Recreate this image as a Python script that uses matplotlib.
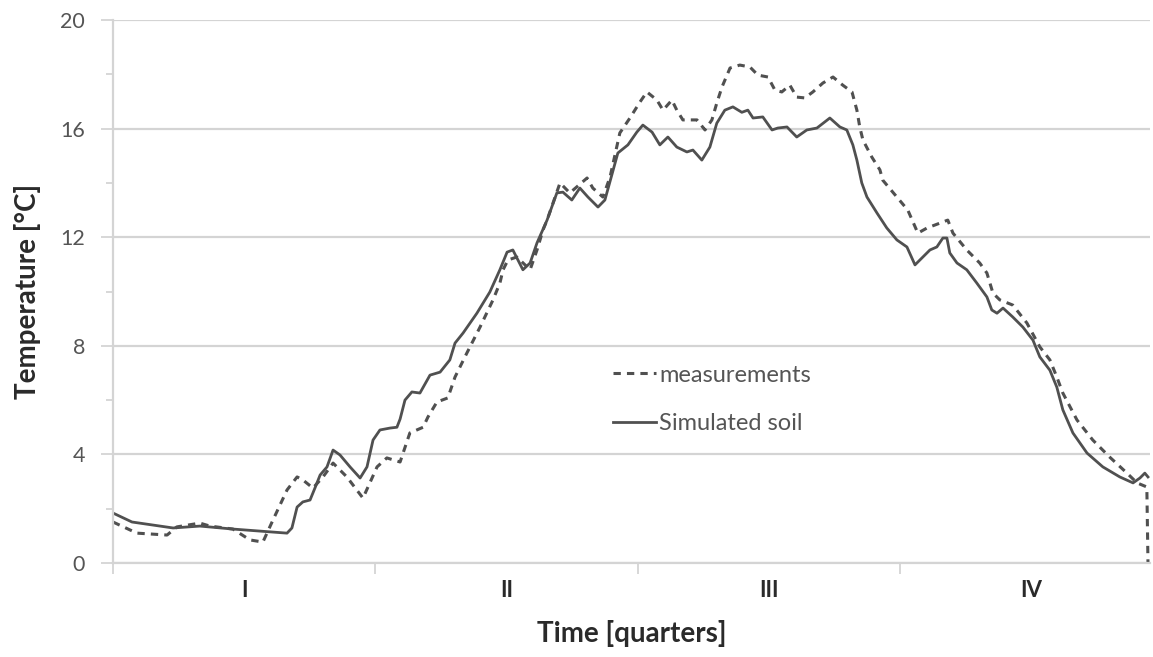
import numpy as np
import matplotlib.pyplot as plt
from matplotlib.ticker import MultipleLocator, FixedLocator

# day of year (0..360) and temperature [°C]
sim_day = [0, 6.6, 20.9, 30.2, 41.7, 60.5, 62.2, 64.0, 66.0, 68.5, 70.2, 72.0, 74.4,
           76.5, 78.9, 82.4, 85.9, 88.3, 90.4, 92.8, 96.3, 98.7, 99.8, 101.5, 103.9,
           106.7, 110.2, 113.7, 117.1, 118.9, 121.7, 126.5, 131.0, 134.5, 137.0, 139.0,
           142.5, 145.0, 147.4, 150.9, 154.3, 156.4, 159.5, 162.3, 165.1, 168.6, 171.0,
           173.4, 175.5, 179.0, 182.1, 184.2, 187.4, 190.1, 192.9, 196.0, 199.5, 201.6,
           204.7, 207.5, 209.9, 212.7, 215.5, 218.6, 220.7, 222.5, 225.9, 229.1, 231.1,
           234.3, 237.7, 241.2, 244.7, 249.2, 252.7, 255.1, 257.2, 258.6, 260.3, 262.1,
           265.6, 269.0, 272.5, 276.0, 278.8, 280.5, 284.0, 286.4, 288.5, 289.9, 290.9,
           293.4, 296.8, 300.3, 303.8, 305.5, 307.3, 309.4, 312.8, 316.3, 319.8, 322.2,
           325.7, 328.1, 330.2, 333.7, 338.6, 344.1, 350.0, 354.6, 357.0, 358.7, 359.8]
sim_temp = [1.84, 1.51, 1.29, 1.36, 1.25, 1.10, 1.29, 2.06, 2.25, 2.32, 2.76, 3.24, 3.54,
            4.16, 3.98, 3.54, 3.13, 3.54, 4.53, 4.90, 4.97, 5.00, 5.30, 6.00, 6.30,
            6.26, 6.92, 7.03, 7.48, 8.10, 8.47, 9.20, 9.98, 10.80, 11.45, 11.53,
            10.80, 11.05, 11.79, 12.63, 13.63, 13.66, 13.37, 13.81, 13.48, 13.11, 13.37,
            14.29, 15.10, 15.40, 15.87, 16.13, 15.87, 15.40, 15.69, 15.32, 15.14, 15.21,
            14.84, 15.32, 16.20, 16.68, 16.80, 16.60, 16.68, 16.39, 16.43, 15.95, 16.02,
            16.06, 15.69, 15.95, 16.02, 16.39, 16.06, 15.95, 15.40, 14.84, 14.00, 13.48,
            12.89, 12.34, 11.90, 11.64, 10.98, 11.16, 11.53, 11.64, 11.97, 11.97, 11.42,
            11.05, 10.80, 10.31, 9.80, 9.32, 9.20, 9.39, 9.06, 8.69, 8.21, 7.59,
            7.10, 6.48, 5.64, 4.79, 4.05, 3.54, 3.17, 2.95, 3.13, 3.31, 3.17]

meas_day = [0, 8.3, 18.8, 22.2, 30.2, 33.7, 41.7, 47.6, 52.1, 55.6, 60.5, 64.0, 66.0,
            69.5, 73.0, 76.5, 81.3, 86.9, 91.8, 95.2, 99.8, 103.2, 107.8, 109.5, 112.6,
            116.4, 118.9, 123.0, 127.6, 132.1, 134.5, 135.6, 137.3, 140.4, 145.0, 147.4,
            149.5, 150.9, 155.4, 158.8, 164.8, 166.8, 170.3, 172.8, 176.2, 179.7, 183.2,
            185.6, 189.1, 191.2, 194.3, 196.0, 198.1, 203.0, 205.8, 208.2, 209.9, 211.7,
            214.5, 217.9, 221.4, 224.2, 227.7, 230.1, 232.5, 235.3, 237.7, 240.5, 243.3,
            246.8, 250.3, 253.7, 256.9, 258.6, 259.6, 260.7, 263.8, 266.6, 267.6, 272.5,
            276.3, 279.8, 283.0, 287.5, 290.2, 292.0, 296.8, 301.3, 303.8, 305.9, 308.3,
            312.8, 317.7, 322.2, 325.7, 328.1, 330.2, 335.1, 340.6, 346.5, 352.5, 356.0,
            359.4, 359.8]
meas_temp = [1.51, 1.10, 1.03, 1.33, 1.47, 1.36, 1.25, 0.85, 0.77, 1.58, 2.69, 3.17, 3.06,
             2.76, 3.17, 3.68, 3.17, 2.39, 3.54, 3.87, 3.72, 4.79, 5.00, 5.38, 5.93,
             6.08, 6.85, 7.73, 8.69, 9.69, 10.31, 10.80, 11.16, 11.27, 10.80, 11.53,
             12.27, 12.63, 14.00, 13.63, 14.18, 13.81, 13.48, 14.22, 15.84, 16.39, 16.98,
             17.35, 17.05, 16.68, 17.05, 16.68, 16.32, 16.32, 15.95, 16.32, 16.94, 17.53,
             18.23, 18.34, 18.27, 17.97, 17.90, 17.42, 17.35, 17.60, 17.16, 17.13, 17.35,
             17.68, 17.90, 17.60, 17.35, 16.68, 16.06, 15.58, 14.95, 14.48, 14.10, 13.48,
             13.00, 12.15, 12.34, 12.52, 12.63, 12.15, 11.53, 11.05, 10.68, 9.94, 9.69,
             9.50, 8.84, 7.96, 7.48, 6.85, 6.26, 5.27, 4.53, 3.90, 3.31, 2.95,
             2.80, 0.0]

quarter_len = 91.25
quarter_labels = ['I', 'II', 'III', 'IV']

plt.rcParams['font.family'] = ['Lato', 'DejaVu Sans']

fig = plt.figure(figsize=(11.53, 6.57), dpi=100)
ax = fig.add_axes([113 / 1153, 1 - 563 / 657, 1037 / 1153, 543 / 657])

line_col = '#505050'
grid_col = '#d4d4d4'
text_col = '#2a2a2a'

ax.plot(meas_day, meas_temp, color=line_col, lw=2.2, linestyle=(0, (2.4, 2.0)),
        label='measurements')
ax.plot(sim_day, sim_temp, color=line_col, lw=2.0, label='Simulated soil')

ax.set_xlim(0, 360.5)
ax.set_ylim(0, 20)

# y axis: major every 4 with grid, minor every 2
ax.yaxis.set_major_locator(MultipleLocator(4))
ax.yaxis.set_minor_locator(MultipleLocator(2))
ax.grid(axis='y', which='major', color=grid_col, lw=1.6)
ax.set_axisbelow(True)
ax.tick_params(axis='y', which='major', length=9, width=1.3, color=grid_col,
               labelsize=15.5, labelcolor='#555555', pad=11)
ax.tick_params(axis='y', which='minor', length=5, width=1.3, color=grid_col)

# x axis: quarter boundaries, labels centred in each quarter
ax.xaxis.set_major_locator(FixedLocator([i * quarter_len for i in range(4)]))
ax.xaxis.set_major_formatter(plt.NullFormatter())
ax.xaxis.set_minor_locator(FixedLocator([(i + 0.5) * quarter_len for i in range(4)]))
ax.set_xticklabels(quarter_labels, minor=True)
ax.tick_params(axis='x', which='major', length=8, width=1.3, color=grid_col)
ax.tick_params(axis='x', which='minor', length=0, labelsize=16, pad=12,
               labelcolor=text_col)
for t in ax.get_xticklabels(minor=True):
    t.set_fontweight('bold')

for side in ['top', 'right']:
    ax.spines[side].set_visible(False)
for side in ['left', 'bottom']:
    ax.spines[side].set_color(grid_col)
    ax.spines[side].set_linewidth(1.6)

ax.set_xlabel('Time [quarters]', fontsize=20, fontweight='bold', color=text_col,
              labelpad=14)
ax.set_ylabel('Temperature [°C]', fontsize=20, fontweight='bold', color=text_col,
              labelpad=14)

leg = ax.legend(loc='upper left', bbox_to_anchor=(0.478, 0.374), frameon=True,
                fontsize=17, handlelength=1.8, handletextpad=0.15, labelspacing=1.15,
                borderpad=0.2, borderaxespad=0)
leg.get_frame().set_edgecolor('none')
leg.get_frame().set_facecolor('white')
for t in leg.get_texts():
    t.set_color('#555555')

fig.savefig('out.png', dpi=100)
